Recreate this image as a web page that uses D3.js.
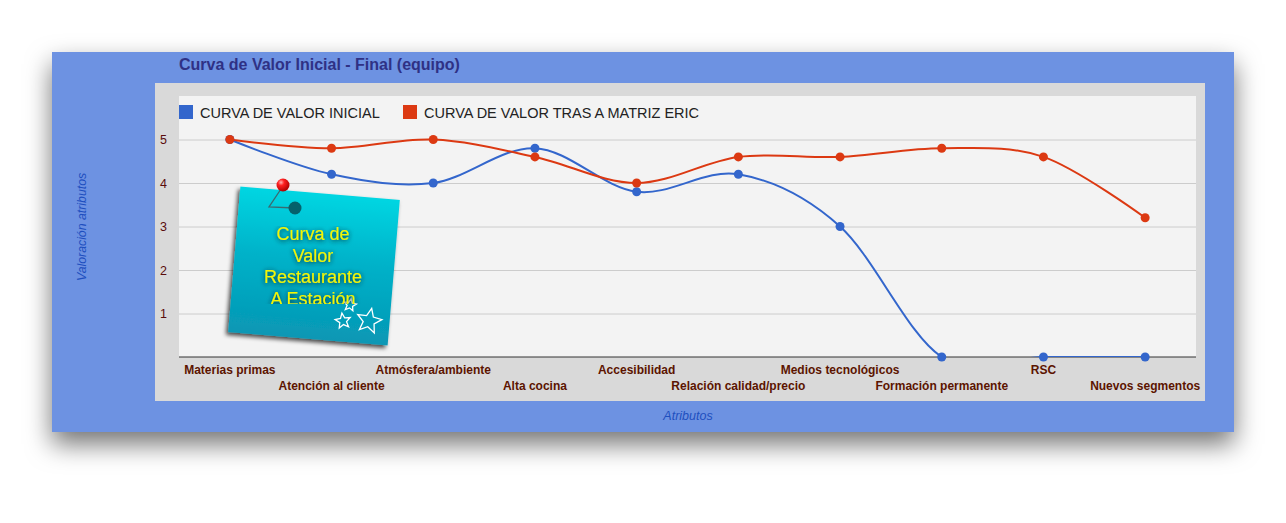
<!DOCTYPE html>
<html>
<head>
<meta charset="utf-8">
<script src="https://cdn.jsdelivr.net/npm/d3@7"></script>
<style>
  body { margin: 0; background: #fff; }
  text { font-family: Arial, "Liberation Sans", sans-serif; }
</style>
</head>
<body>
<div class="canvas"></div>
<script>
// data
const categories = ['Materias primas', 'Atención al cliente', 'Atmósfera/ambiente', 'Alta cocina',
  'Accesibilidad', 'Relación calidad/precio', 'Medios tecnológicos', 'Formación permanente',
  'RSC', 'Nuevos segmentos'];
const inicial = [5, 4.2, 4, 4.8, 3.8, 4.2, 3, 0, 0, 0];
const final = [5, 4.8, 5, 4.6, 4, 4.6, 4.6, 4.8, 4.6, 3.2];
const seriesNames = ['CURVA DE VALOR INICIAL', 'CURVA DE VALOR TRAS A MATRIZ ERIC'];
const seriesColors = ['#3366cc', '#dc3912'];
const yTicks = [1, 2, 3, 4, 5];
const noteLines = ['Curva de', 'Valor', 'Restaurante', 'A Estación'];

const dims = { width: 1286, height: 523 };
const plot = { left: 179, right: 1196, top: 96, bottom: 357 };

const svg = d3.select('.canvas')
    .append('svg')
    .attr('width', dims.width)
    .attr('height', dims.height);

const defs = svg.append('defs');

// outer shadow
const shadow = defs.append('filter').attr('id', 'outerShadow')
    .attr('x', '-10%').attr('y', '-20%').attr('width', '120%').attr('height', '150%');
shadow.append('feDropShadow')
    .attr('dx', 0).attr('dy', 12).attr('stdDeviation', 13)
    .attr('flood-color', '#000').attr('flood-opacity', 0.55);

const noteShadow = defs.append('filter').attr('id', 'noteShadow')
    .attr('x', '-20%').attr('y', '-20%').attr('width', '140%').attr('height', '140%');
noteShadow.append('feDropShadow')
    .attr('dx', -2).attr('dy', 3).attr('stdDeviation', 2)
    .attr('flood-color', '#000').attr('flood-opacity', 0.7);

const textGlow = defs.append('filter').attr('id', 'textGlow')
    .attr('x', '-20%').attr('y', '-40%').attr('width', '140%').attr('height', '180%');
textGlow.append('feDropShadow')
    .attr('dx', 0).attr('dy', 1).attr('stdDeviation', 2.5)
    .attr('flood-color', '#00262e').attr('flood-opacity', 1);

const noteGrad = defs.append('linearGradient').attr('id', 'noteGrad')
    .attr('x1', 0).attr('y1', 0).attr('x2', 0).attr('y2', 1);
noteGrad.append('stop').attr('offset', '0%').attr('stop-color', '#00d6e2');
noteGrad.append('stop').attr('offset', '45%').attr('stop-color', '#00b2c9');
noteGrad.append('stop').attr('offset', '100%').attr('stop-color', '#0897b4');

const pinGrad = defs.append('radialGradient').attr('id', 'pinGrad')
    .attr('cx', '35%').attr('cy', '30%').attr('r', '70%');
pinGrad.append('stop').attr('offset', '0%').attr('stop-color', '#ffb0b0');
pinGrad.append('stop').attr('offset', '35%').attr('stop-color', '#ff2020');
pinGrad.append('stop').attr('offset', '100%').attr('stop-color', '#b00000');

defs.append('clipPath').attr('id', 'plotClip')
  .append('rect')
    .attr('x', plot.left).attr('y', plot.top)
    .attr('width', plot.right - plot.left).attr('height', plot.bottom - plot.top);

// frame
svg.append('rect')
    .attr('x', 52).attr('y', 52).attr('width', 1182).attr('height', 380)
    .attr('fill', '#6d92e2')
    .attr('filter', 'url(#outerShadow)');

svg.append('rect')
    .attr('x', 155).attr('y', 83).attr('width', 1050).attr('height', 318)
    .attr('fill', '#d9d9d9');

svg.append('rect')
    .attr('x', plot.left).attr('y', plot.top)
    .attr('width', plot.right - plot.left).attr('height', plot.bottom - plot.top)
    .attr('fill', '#f3f3f3');

svg.append('text')
    .attr('x', 179).attr('y', 70)
    .attr('font-size', 16).attr('font-weight', 'bold')
    .attr('fill', '#2f3185')
    .text('Curva de Valor Inicial - Final (equipo)');

// scales
const x = d3.scalePoint()
    .domain(categories)
    .range([plot.left, plot.right])
    .padding(0.5);

const y = d3.scaleLinear()
    .domain([0, 6])
    .range([plot.bottom, plot.top]);

// gridlines + y labels
const yAxis = d3.axisLeft(y)
    .tickValues(yTicks)
    .tickFormat(d3.format('d'))
    .tickSize(-(plot.right - plot.left))
    .tickPadding(12);

const yG = svg.append('g')
    .attr('transform', `translate(${plot.left},0)`)
    .call(yAxis);
yG.select('.domain').remove();
yG.selectAll('line').attr('stroke', '#cccccc');
yG.selectAll('text')
    .attr('font-size', 12.5)
    .attr('font-family', 'Arial, "Liberation Sans", sans-serif')
    .attr('fill', '#5a0c0c');

// baseline
svg.append('line')
    .attr('x1', plot.left).attr('x2', plot.right)
    .attr('y1', y(0)).attr('y2', y(0))
    .attr('stroke', '#333').attr('stroke-width', 1);

// x labels, staggered
svg.append('g').selectAll('text')
    .data(categories)
  .enter().append('text')
    .attr('x', d => x(d))
    .attr('y', (d, i) => i % 2 === 0 ? 374 : 390)
    .attr('text-anchor', 'middle')
    .attr('font-size', 12).attr('font-weight', 'bold')
    .attr('fill', '#5c1400')
    .text(d => d);

// axis titles
svg.append('text')
    .attr('x', 688).attr('y', 420)
    .attr('text-anchor', 'middle')
    .attr('font-size', 12.5).attr('font-style', 'italic')
    .attr('fill', '#1e4fbf')
    .text('Atributos');

svg.append('text')
    .attr('transform', 'translate(86,227) rotate(-90)')
    .attr('text-anchor', 'middle')
    .attr('font-size', 12.3).attr('font-style', 'italic')
    .attr('fill', '#1e4fbf')
    .text('Valoración atributos');

// legend
const legend = svg.append('g').selectAll('g')
    .data(seriesNames)
  .enter().append('g')
    .attr('transform', (d, i) => `translate(${i === 0 ? 179 : 403},105)`);
legend.append('rect')
    .attr('width', 14).attr('height', 14)
    .attr('fill', (d, i) => seriesColors[i]);
legend.append('text')
    .attr('x', 21).attr('y', 12.5)
    .attr('font-size', 14.5)
    .attr('fill', '#222')
    .text(d => d);

// lines
const line = d3.line()
    .x((d, i) => x(categories[i]))
    .y(d => y(d))
    .curve(d3.curveCatmullRom.alpha(0));

const series = [inicial, final];

svg.append('g')
    .attr('clip-path', 'url(#plotClip)')
  .selectAll('path')
    .data(series)
  .enter().append('path')
    .attr('d', line)
    .attr('fill', 'none')
    .attr('stroke', (d, i) => seriesColors[i])
    .attr('stroke-width', 2);

series.forEach((s, si) => {
  svg.append('g').selectAll('circle')
      .data(s)
    .enter().append('circle')
      .attr('cx', (d, i) => x(categories[i]))
      .attr('cy', d => y(d))
      .attr('r', 4.5)
      .attr('fill', seriesColors[si]);
});

// sticky note overlay
const note = svg.append('g')
    .attr('transform', 'translate(314,266) rotate(4.8)');

note.append('rect')
    .attr('x', -80).attr('y', -73).attr('width', 160).attr('height', 146)
    .attr('fill', 'url(#noteGrad)')
    .attr('filter', 'url(#noteShadow)');

// stars
const starPath = (r) => {
  const pts = [];
  for (let k = 0; k < 10; k++) {
    const a = -Math.PI / 2 + k * Math.PI / 5;
    const rr = k % 2 === 0 ? r : r * 0.45;
    pts.push([rr * Math.cos(a), rr * Math.sin(a)]);
  }
  return 'M' + pts.map(p => p.join(',')).join('L') + 'Z';
};
const stars = [[350, 305, 6.5, 10], [343, 321, 8, -8], [369, 321, 13, 12]];
svg.append('g').selectAll('path')
    .data(stars)
  .enter().append('path')
    .attr('transform', d => `translate(${d[0]},${d[1]}) rotate(${d[3]})`)
    .attr('d', d => starPath(d[2]))
    .attr('fill', 'none')
    .attr('stroke', '#fff')
    .attr('stroke-width', 1.3);

// note text
defs.append('clipPath').attr('id', 'noteTextClip')
  .append('rect')
    .attr('x', 255).attr('y', 226).attr('width', 116).attr('height', 78);

svg.append('g')
    .attr('clip-path', 'url(#noteTextClip)')
  .selectAll('text')
    .data(noteLines)
  .enter().append('text')
    .attr('x', 313)
    .attr('y', (d, i) => 240 + i * 21.5)
    .attr('text-anchor', 'middle')
    .attr('font-size', 18)
    .attr('fill', '#f6f600')
    .attr('filter', 'url(#textGlow)')
    .text(d => d);

// pin
svg.append('path')
    .attr('d', 'M283,186 L269,207 L295,208')
    .attr('fill', 'none')
    .attr('stroke', '#3a6a70')
    .attr('stroke-width', 1.3);
svg.append('circle')
    .attr('cx', 295).attr('cy', 208).attr('r', 6.5)
    .attr('fill', '#05616b');
svg.append('circle')
    .attr('cx', 283).attr('cy', 185).attr('r', 6.5)
    .attr('fill', 'url(#pinGrad)');
</script>
</body>
</html>
